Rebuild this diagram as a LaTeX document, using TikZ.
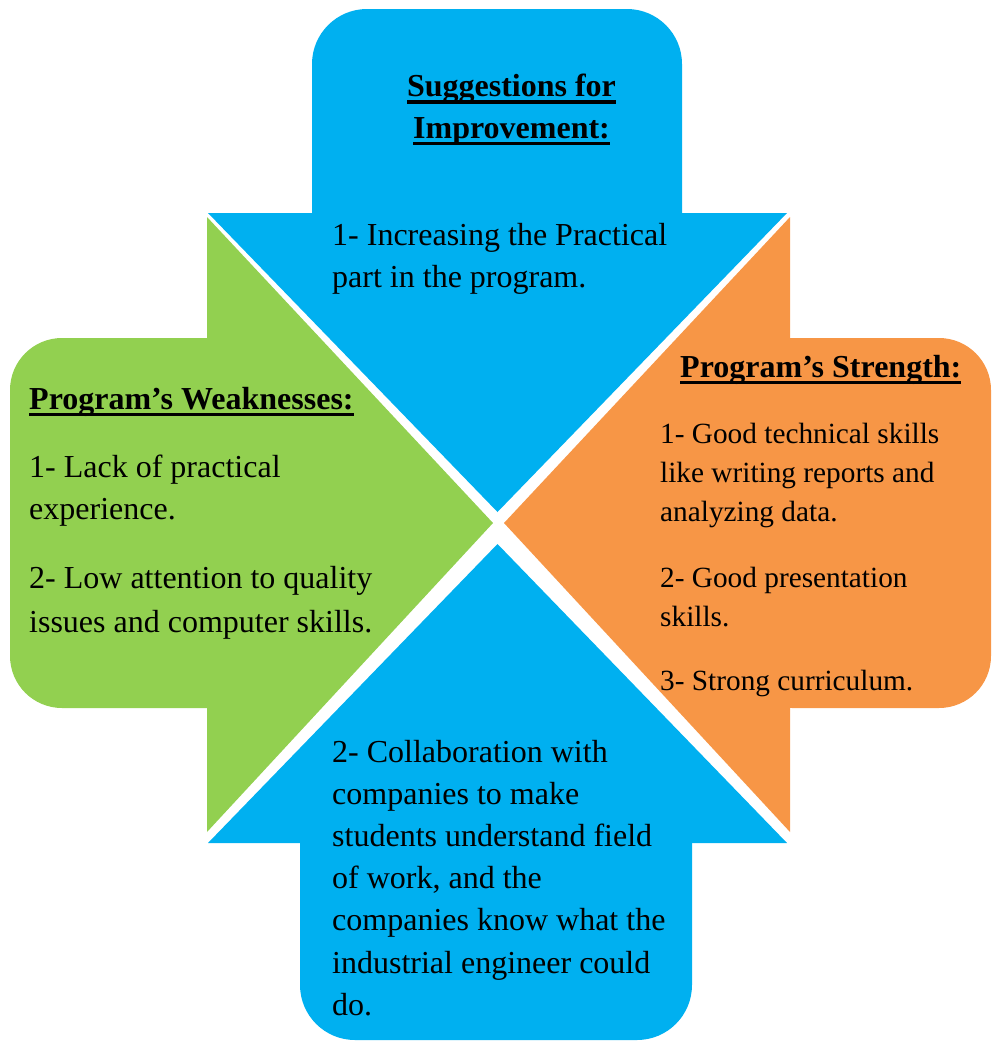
\documentclass[tikz,border=0pt]{standalone}
\usepackage{fontspec}
\setmainfont{Liberation Serif}
\definecolor{ablue}{HTML}{00B0F0}
\definecolor{agreen}{HTML}{92D050}
\definecolor{aorange}{HTML}{F79646}
\newcommand\hul[1]{\setbox0\hbox{#1}\rlap{\rule[-7pt]{\wd0}{3.4pt}}\box0}
\newcommand\Lines[1]{\vtop{\halign{##\hfil\cr#1\crcr}}}
\newcommand\CLines[1]{\vtop{\halign{\hfil##\hfil\cr#1\crcr}}}
\begin{document}
\begin{tikzpicture}[x=1pt,y=-1pt,
  txt/.style={inner sep=0pt, anchor=base west, font=\fontsize{32}{42.5}\selectfont},
  txts/.style={inner sep=0pt, anchor=base west, font=\fontsize{29.3}{39}\selectfont},
  hd/.style={inner sep=0pt, anchor=base west, font=\bfseries\fontsize{32}{41.7}\selectfont}]
\useasboundingbox (0,0) rectangle (992,1042);
% top blue arrow
\fill[ablue, rounded corners=55pt] (312,9) rectangle (682,290);
\fill[ablue] (208,213) -- (787,213) -- (497.5,512) -- cycle;
% left green arrow
\fill[agreen, rounded corners=52pt] (10,338) rectangle (260,708);
\fill[agreen] (207,217) -- (493,523) -- (207,832) -- cycle;
% right orange arrow
\fill[aorange, rounded corners=52pt] (740,338) rectangle (991,708);
\fill[aorange] (790,217) -- (504,523) -- (790,832) -- cycle;
% bottom blue arrow
\fill[ablue, rounded corners=55pt] (300,780) rectangle (692,1040);
\fill[ablue] (208,843) -- (787,843) -- (497.5,544) -- cycle;
% texts
\node[hd, anchor=base] (suggH) at (511.5,96.7) {\CLines{\hul{Suggestions for}\cr\hul{Improvement:}}};
\node[txt] (sugg1) at (332,245) {\Lines{1- Increasing the Practical\cr part in the program.}};
\node[hd] (weakH) at (29,409) {\hul{Program’s Weaknesses:}};
\node[txt] (weak1) at (29,477) {\Lines{1- Lack of practical\cr experience.}};
\node[txt, font=\fontsize{32}{44}\selectfont] (weak2) at (29,588) {\Lines{2- Low attention to quality\cr issues and computer skills.}};
\node[hd] (strH) at (680,377) {\hul{Program’s Strength:}};
\node[txts] (str1) at (660,443.3) {\Lines{1- Good technical skills\cr like writing reports and\cr analyzing data.}};
\node[txts] (str2) at (660,587.3) {\Lines{2- Good presentation\cr skills.}};
\node[txts] (str3) at (660,690.7) {3- Strong curriculum.};
\node[txt, font=\fontsize{32}{42.2}\selectfont] (coll) at (332,762) {\Lines{2- Collaboration with\cr companies to make\cr students understand field\cr of work, and the\cr companies know what the\cr industrial engineer could\cr do.}};
\end{tikzpicture}
\end{document}
